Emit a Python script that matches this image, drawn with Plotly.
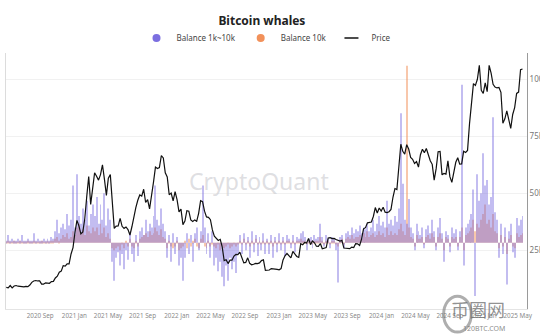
import pandas as pd
import plotly.graph_objects as go

# ---------------- data (weekly samples) ----------------
start_date = "2020-05-03"

# BTC price, thousand USD
price_k = [
    8.9, 8.7, 9.7, 8.7, 9.5, 9.7, 9.4, 9.3, 9.1, 9.1, 9.3, 9.2, 9.9,
    11.1, 11.7, 11.9, 11.7, 11.7, 10.3, 10.3, 10.9, 10.8, 10.7, 11.4, 11.5, 13.0,
    13.8, 15.5, 16.0, 18.4, 18.2, 19.2, 19.2, 23.5, 26.3,
    # 2021
    33.0, 38.2, 35.8, 32.3, 33.1, 39.0, 48.7, 57.4, 45.2, 51.2, 59.0, 57.5, 55.8,
    58.2, 62.5, 56.2, 49.1, 56.6, 58.2, 46.4, 34.7, 35.7, 35.8, 39.1, 35.6, 34.7,
    35.3, 34.2, 31.8, 35.4, 39.9, 43.8, 47.0, 49.3, 48.8, 51.8, 46.0, 47.3, 43.2,
    48.2, 54.9, 61.5, 60.9, 61.3, 66.5, 65.5, 59.0, 57.2, 49.4, 50.1, 46.7, 50.8,
    # 2022
    47.3, 41.9, 43.1, 36.3, 37.9, 42.4, 42.2, 38.4, 37.7, 38.4, 37.8, 41.3, 46.8,
    46.4, 42.2, 39.7, 39.5, 38.5, 34.0, 31.3, 30.3, 29.4, 29.9, 26.6, 20.6, 21.0,
    19.3, 20.8, 20.8, 22.6, 23.3, 23.2, 24.3, 21.5, 19.6, 19.8, 21.8, 19.4, 18.8,
    19.0, 19.4, 19.3, 19.6, 20.6, 20.9, 16.3, 16.3, 16.5, 17.1, 17.1, 16.8, 16.8,
    # 2023
    16.6, 17.1, 20.9, 22.7, 23.7, 22.9, 21.8, 24.6, 23.5, 22.4, 22.0, 28.0, 27.5,
    28.5, 28.3, 30.3, 27.6, 29.2, 28.4, 26.9, 26.8, 28.1, 25.8, 25.9, 26.3, 30.5,
    30.6, 30.2, 30.3, 29.8, 29.3, 29.1, 29.4, 26.1, 26.0, 25.9, 25.8, 26.5, 26.3,
    28.0, 27.9, 27.2, 30.0, 34.5, 35.0, 37.1, 37.4, 37.5, 39.9, 43.8, 41.4, 43.6, 42.3,
    # 2024
    43.9, 41.8, 41.6, 42.0, 43.0, 48.3, 52.1, 51.7, 63.1, 71.5, 68.4, 67.2, 71.3,
    69.4, 65.7, 64.9, 63.1, 63.9, 61.5, 66.9, 69.3, 67.8, 69.6, 66.6, 64.3, 62.7,
    55.8, 60.8, 68.2, 68.3, 58.1, 58.7, 58.4, 64.2, 57.3, 54.8, 59.2, 63.6, 65.6,
    62.8, 62.9, 68.4, 67.9, 68.8, 80.5, 90.6, 98.0, 97.2, 99.9, 106.0, 95.1, 93.7,
    # 2025
    98.3, 94.5, 106.0, 102.6, 97.7, 96.5, 96.1, 96.3, 94.2, 80.7, 82.6, 86.1, 82.3,
    78.4, 84.5, 87.5, 93.7, 94.3, 104.1, 104.4,
]

# Balance 1k~10k netflow (arbitrary units)
bal_1k_10k = [
    1, 4, 1, 2, 1, 1, 2, 1, 4, 1,
    1, 2, 1, 1, 5, 1, 2, 1, 1, 2,
    1, 2, 1, 3, 2, 6, 12, 5, 8, 10,
    7, 15, 9, 12, 30, 8, 36, 14, 10, 18,
    12, 22, 9, 15, 20, 14, 24, 10, 20, 12,
    26, 9, 18, 12, -10, -20, -8, -5, -12, -6,
    -14, -4, -9, 5, -6, -10, 4, -7, 6, 8,
    4, 12, 6, 10, 8, 14, 30, 12, 9, 18,
    10, 6, -8, 4, -10, 5, -6, 3, -12, -8,
    -20, -8, 5, -6, 4, -10, 5, 8, -4, 6,
    30, 8, -6, 5, -8, 6, -12, -8, -15, -10,
    -18, -23, -12, -20, -8, -14, -10, -16, -6, 4,
    -6, 5, -4, 3, -8, 6, -5, 4, -7, 3,
    -4, 5, -6, 2, -6, 4, -8, 3, -5, 5,
    -4, 3, -7, 4, 2, -3, 4, -5, 3, 2,
    5, 6, 3, -4, 2, 3, -3, 4, 2, 3,
    10, 3, -2, 4, 2, -3, 3, 2, -4, -21,
    3, 4, -3, 5, 6, 4, 8, 5, 7, 6,
    9, 5, 8, 7, 10, 6, 8, 12, 6, 10,
    14, 9, 11, 8, 22, 10, 12, 9, 14, 11,
    18, 68, 31, 12, 10, 23, 8, 5, -4, 10,
    6, 4, 8, -3, 7, 9, 5, 12, 6, -4,
    8, 13, 5, -10, 6, 4, -5, 8, 5, 7,
    -4, 6, 83, -12, 8, 10, 12, 15, 28, -28,
    36, 22, 26, 47, 30, 33, 20, 24, 66, 16,
    12, -8, 10, -6, 8, -22, 6, 10, -5, -8,
    13, 9, 12, 14,
]

# Balance 10k netflow (arbitrary units)
bal_10k = [
    0.5, 1, 0.5, 0.5, 1, 0.5, 0.5, 1, 0.5, 0.5,
    0.5, 1, 0.5, 0.5, 1, 0.5, 0.5, 0.5, 1, 0.5,
    0.5, 1, 0.5, 1, 1, 2, 3, 1, 2, 4,
    3, 5, 2, 3, 6, 4, 8, 10, 5, 7,
    4, 9, 6, 5, 8, 6, 8, 4, 10, 5,
    8, 3, 5, 2, -3, -4, -3, -2, -4, -1,
    -3, 1, -2, 2, -2, -3, 1, -2, 2, 3,
    4, 5, 3, 6, 4, 5, 8, 6, 4, 7,
    3, 2, -3, 1, -2, -3, -2, 1, -4, -3,
    -2, 1, -3, 2, -2, 1, 2, -2, -3, 2,
    4, -2, -3, 1, -2, -1, -2, -3, -1, -4,
    -2, -3, -2, -1, -3, -2, -1, -2, -1, 1,
    -1, 2, -1, 1, -2, 1, -1, 2, -1, 1,
    -1, 1, -1, 1, -1, 1, -2, 1, -1, 1,
    -1, 1, -1, 1, 1, -1, 1, -1, 1, 1,
    2, 1, 1, -1, 1, 1, -1, 1, 1, 1,
    3, 1, -1, 1, 1, -1, 1, 1, -1, -2,
    1, 2, -1, 2, 3, 2, 4, 2, 3, 3,
    4, 2, 5, 3, 6, 3, 4, 5, 3, 4,
    6, 4, 5, 3, 8, 4, 6, 4, 5, 4,
    7, 10, 6, 4, 93, 8, 3, 2, -2, 4,
    2, 2, 3, -1, 3, 4, 2, 5, 3, -2,
    3, 5, 2, -4, 3, 2, -2, 3, 2, 3,
    -2, 3, 8, -4, 4, 5, 6, 8, 12, 6,
    10, 8, 12, 15, 20, 10, 12, 8, 15, 6,
    5, -3, 4, -2, 3, -6, 2, 4, -2, -3,
    5, 3, 4, 5,
]

price_ticks = [25000, 50000, 75000, 100000]
price_tick_text = ["25K", "50K", "75K", "100K"]

dates = pd.date_range(start_date, periods=len(price_k), freq="7D")
price_usd = [p * 1000 for p in price_k]

PURPLE = "#7b6ee0"
ORANGE = "#f2915a"
FONT = "Noto Sans"

fig = go.Figure()
fig.add_trace(go.Bar(x=dates, y=bal_10k, marker=dict(color=ORANGE, line=dict(width=0)),
                     opacity=0.5, showlegend=False, name="Balance 10k"))
fig.add_trace(go.Bar(x=dates, y=bal_1k_10k, marker=dict(color=PURPLE, line=dict(width=0)),
                     opacity=0.45, showlegend=False, name="Balance 1k~10k"))
fig.add_trace(go.Scatter(x=dates, y=price_usd, mode="lines", yaxis="y2",
                         line=dict(color="#111111", width=1.2), showlegend=False, name="Price"))

# legend entries
fig.add_trace(go.Scatter(x=[None], y=[None], mode="markers", name="Balance 1k~10k",
                         marker=dict(color=PURPLE, size=8, symbol="circle")))
fig.add_trace(go.Scatter(x=[None], y=[None], mode="markers", name="Balance 10k",
                         marker=dict(color=ORANGE, size=8, symbol="circle")))
fig.add_trace(go.Scatter(x=[None], y=[None], mode="markers", name="Price",
                         marker=dict(symbol="line-ew", size=10, color="#111",
                                     line=dict(width=1.5, color="#111"))))

fig.update_layout(
    width=540, height=336,
    margin=dict(l=6, r=13, t=50, b=27),
    paper_bgcolor="white", plot_bgcolor="white",
    font=dict(family=FONT, color="#333"),
    barmode="overlay", bargap=0.5,
    title=dict(text="<b>Bitcoin whales</b>", x=0.485, xref="container", xanchor="center",
               y=1 - 21 / 336, yref="container", yanchor="middle",
               font=dict(size=12, color="#222", family=FONT)),
    legend=dict(orientation="h", x=0.5, xanchor="center", y=1 - 38 / 336, yref="container",
                yanchor="middle", font=dict(size=8, color="#444"), bgcolor="rgba(0,0,0,0)",
                itemwidth=30, tracegroupgap=0),
    xaxis=dict(type="date", range=["2020-05-02", "2025-06-03"], dtick="M4", tick0="2020-09-01",
               tickformat="%Y %b", tickangle=0, showgrid=False, showline=True,
               linecolor="#e4e4e4", ticks="", tickfont=dict(size=6.3, color="#8a8a8a"),
               zeroline=False, automargin=False),
    yaxis=dict(range=[-34.9, 100], showticklabels=False, showgrid=False, zeroline=False,
               showline=True, linecolor="#dcdcdc", fixedrange=True, automargin=False),
    yaxis2=dict(overlaying="y", side="right", range=[-560, 111600], tickvals=price_ticks,
                ticktext=price_tick_text, showgrid=True, gridcolor="#f1f1f1", showline=True,
                linecolor="#9a9a9a", zeroline=False, ticks="", automargin=False,
                tickfont=dict(size=8, color="#777")),
    annotations=[
        dict(text="CryptoQuant", xref="paper", yref="paper", x=0.486, y=0.498,
             showarrow=False, font=dict(size=23, color="rgba(205,205,210,0.65)", family=FONT)),
        dict(text="币圈网", xref="paper", yref="paper", x=0.962, y=0.0, yanchor="middle",
             showarrow=False, font=dict(size=18, color="rgba(110,110,110,0.75)",
                                        family="Noto Sans CJK SC")),
        dict(text="120BTC.COM", xref="paper", yref="paper", x=0.962, y=-0.075, yanchor="middle",
             showarrow=False, font=dict(size=7, color="rgba(110,110,110,0.8)", family=FONT)),
    ],
    shapes=[
        dict(type="circle", xref="paper", yref="paper", x0=0.84, x1=0.893, y0=-0.09, y1=0.05,
             line=dict(color="rgba(120,120,120,0.6)", width=3)),
    ],
)

fig.write_html("out.html")
